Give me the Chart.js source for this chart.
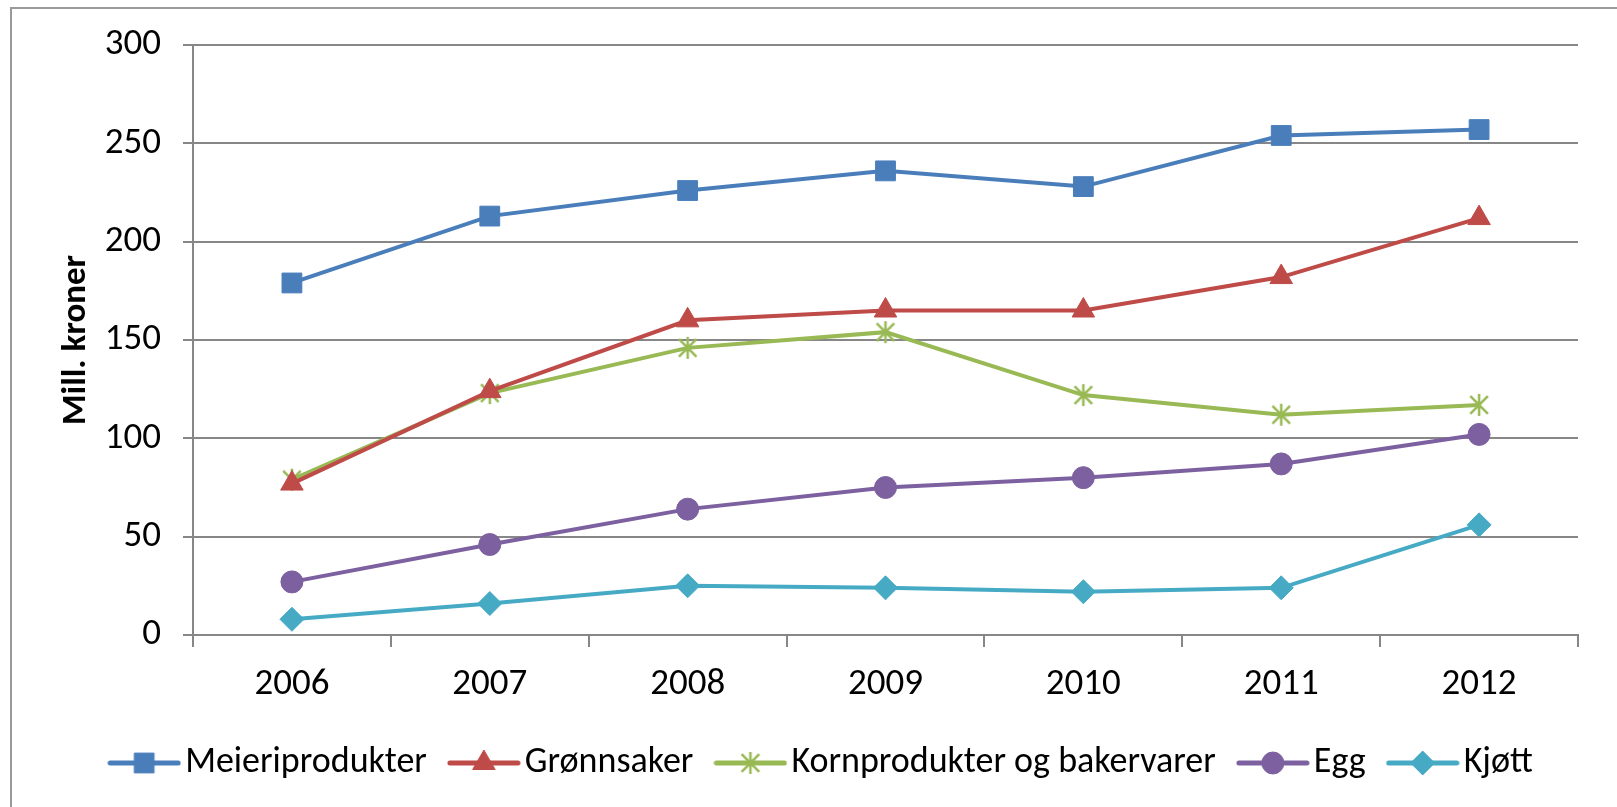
<!DOCTYPE html>
<html>
<head>
<meta charset="utf-8">
<script src="https://cdn.jsdelivr.net/npm/chart.js@4/dist/chart.umd.min.js"></script>
<style>
  body { margin: 0; background: #fff; overflow: hidden; }
  #ramme { position: absolute; left: 10px; top: 7px; width: 2000px; height: 2000px;
           border-left: 2px solid #9a9a9a; border-top: 2px solid #9a9a9a; }
  #boks { position: absolute; left: 0; top: 0; width: 1617px; height: 807px; }
</style>
</head>
<body>
<div id="ramme"></div>
<div id="boks"><canvas id="myChart"></canvas></div>
<script>
var aar = ["2006", "2007", "2008", "2009", "2010", "2011", "2012"];
var meieriprodukter = [179, 213, 226, 236, 228, 254, 257];
var gronnsaker = [77, 124, 160, 165, 165, 182, 212];
var kornprodukter = [79, 123, 146, 154, 122, 112, 117];
var egg = [27, 46, 64, 75, 80, 87, 102];
var kjott = [8, 16, 25, 24, 22, 24, 56];
var yTicks = [0, 50, 100, 150, 200, 250, 300];

var navn = ["Meieriprodukter", "Grønnsaker", "Kornprodukter og bakervarer", "Egg", "Kjøtt"];
var farger = ["#4a7ebb", "#be4b48", "#98b954", "#7d60a0", "#46aac5"];
var stiler = ["rect", "triangle", "star", "circle", "rectRot"];
var radier = [14, 13, 11, 11, 12];
var serier = [meieriprodukter, gronnsaker, kornprodukter, egg, kjott];

Chart.defaults.font.family = "Carlito, Lato, sans-serif";
Chart.defaults.color = "#000";

// Excel-style star: vertical line + X
function tegnStjerne(ctx, x, y, r, farge){
    var d = r * 0.8;
    ctx.strokeStyle = farge;
    ctx.lineWidth = 2.5;
    ctx.beginPath();
    ctx.moveTo(x, y - r); ctx.lineTo(x, y + r);
    ctx.moveTo(x - d, y - d); ctx.lineTo(x + d, y + d);
    ctx.moveTo(x - d, y + d); ctx.lineTo(x + d, y - d);
    ctx.stroke();
}
var stjerne = document.createElement("canvas");
stjerne.width = 26; stjerne.height = 26;
tegnStjerne(stjerne.getContext("2d"), 13, 13, radier[2], farger[2]);

// legend symbols: line + marker
function lagIkon(i){
    var c = document.createElement("canvas");
    c.width = 74; c.height = 28;
    var ctx = c.getContext("2d");
    ctx.strokeStyle = farger[i];
    ctx.lineWidth = 5;
    ctx.lineCap = "round";
    ctx.beginPath(); ctx.moveTo(3, 14); ctx.lineTo(71, 14); ctx.stroke();
    ctx.lineCap = "butt";
    if (stiler[i] == "star") {
        tegnStjerne(ctx, 37, 14, radier[i], farger[i]);
    } else {
        ctx.fillStyle = farger[i];
        ctx.lineWidth = 1;
        Chart.helpers.drawPoint(ctx, {pointStyle: stiler[i], radius: radier[i], rotation: 0, borderWidth: 1}, 37, 14);
    }
    return c;
}
var ikoner = navn.map(function(n, i){ return lagIkon(i); });

var datasets = serier.map(function(d, i){
    return {
        label: navn[i],
        data: d,
        borderColor: farger[i],
        backgroundColor: farger[i],
        borderWidth: 4,
        pointStyle: stiler[i] == "star" ? stjerne : stiler[i],
        pointRadius: radier[i],
        pointHoverRadius: radier[i],
        pointBorderWidth: 1,
        tension: 0
    };
});

// center the legend like Excel does (it sits a bit to the right)
var flyttLegende = {
    id: "flyttLegende",
    afterLayout: function(chart){ chart.legend.left += 76; }
};

var grid = "#878787";
var myChart = new Chart(document.getElementById("myChart"), {
    type: "line",
    data: { labels: aar, datasets: datasets },
    plugins: [flyttLegende],
    options: {
        responsive: true,
        maintainAspectRatio: false,
        animation: false,
        layout: { padding: { left: 0, top: 45, right: 39, bottom: 16 } },
        plugins: {
            tooltip: { enabled: false },
            legend: {
                position: "bottom",
                labels: {
                    font: { size: 36 },
                    usePointStyle: true,
                    pointStyleWidth: 46,
                    boxHeight: 28,
                    padding: 34,
                    generateLabels: function(chart){
                        var items = Chart.defaults.plugins.legend.labels.generateLabels(chart);
                        items.forEach(function(it, i){ it.pointStyle = ikoner[i]; });
                        return items;
                    }
                }
            }
        },
        scales: {
            x: {
                offset: true,
                grid: { display: true, offset: true, drawOnChartArea: false, drawTicks: true,
                        tickLength: 12, color: grid, lineWidth: 2 },
                border: { color: grid, width: 2 },
                ticks: { font: { size: 37 }, padding: 16, maxRotation: 0 },
                afterFit: function(s){ s.height = 76; }
            },
            y: {
                min: 0, max: 300,
                afterBuildTicks: function(s){ s.ticks = yTicks.map(function(v){ return {value: v}; }); },
                grid: { color: grid, lineWidth: 2, tickLength: 10 },
                border: { color: grid, width: 2 },
                ticks: { font: { size: 37 }, padding: 22 },
                title: { display: true, text: "Mill. kroner", font: { size: 35, weight: "bold" },
                         padding: { top: 55, bottom: 0 } },
                afterFit: function(s){ s.width = 193; }
            }
        }
    }
});
</script>
</body>
</html>
